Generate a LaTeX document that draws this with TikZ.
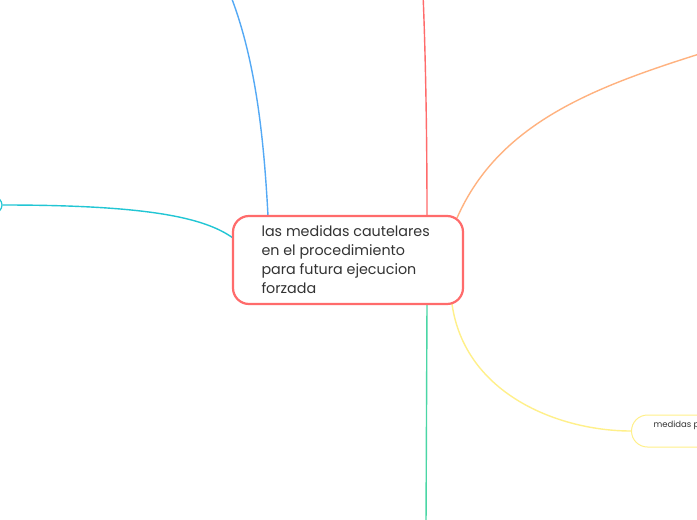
\documentclass[tikz,border=0pt]{standalone}
\usepackage{fontspec}
\setmainfont{Poppins}
\definecolor{cred}{HTML}{FF6B6B}
\definecolor{cblue}{HTML}{54A9F5}
\definecolor{ccyan}{HTML}{21C6D4}
\definecolor{corange}{HTML}{FFB27F}
\definecolor{cgreen}{HTML}{4AD6A5}
\definecolor{cyellow}{HTML}{FFF08A}
\definecolor{ctext}{HTML}{333333}
\tikzset{
  link/.style={line width=1.4pt},
  mainbox/.style={draw=cred, line width=2.2pt, rounded corners=16pt, fill=white, minimum width=230pt, minimum height=88pt, inner sep=0pt},
  subbox/.style={draw=cyellow, line width=1pt, rounded corners=16pt, fill=white, minimum height=32pt, minimum width=120pt, inner sep=0pt},
  leftbox/.style={draw=ccyan, line width=1.2pt, rounded corners=8pt, fill=white, minimum height=16pt, minimum width=100pt, inner sep=0pt},
}
\begin{document}
\begin{tikzpicture}[x=1pt,y=-1pt]
\fill[white!98!black!1] (0,0) rectangle (697,520);
\useasboundingbox (0,0) rectangle (697,520);
\clip (0,0) rectangle (697,520);
% endpoints off the canvas
\coordinate (blueend) at (230,-6);
\coordinate (redend) at (423,-6);
\coordinate (orangeend) at (712,50);
\coordinate (greenend) at (426,526);
% nodes
\node[leftbox] (leftn) at (-48,205) {};
\node[subbox, anchor=west] (yel) at (631,431) {};
\node[anchor=west, font=\fontsize{8.5}{10}\selectfont, text=ctext] (yeltext) at (650,425) {medidas p};
% connectors
\draw[link, cblue] (268,216) .. controls (264,140) and (256,60) .. (blueend);
\draw[link, cred] (427,216) .. controls (427,120) and (425,40) .. (redend);
\draw[link, ccyan] (leftn.east) .. controls (150,205) and (205,218) .. (233,238);
\draw[link, corange] (457,218) .. controls (500,120) and (600,85) .. (orangeend);
\draw[link, cgreen] (427,304) -- (greenend);
\draw[link, cyellow] (452,304) .. controls (465,395) and (560,431) .. (yel.west);
% main node
\node[mainbox] (main) at (348,260) {};
\node[anchor=north west, align=left, text=ctext, font=\fontsize{14.3}{19}\selectfont] (maintext) at (258,222) {las medidas cautelares\\en el procedimiento\\para futura ejecucion\\forzada};
\end{tikzpicture}
\end{document}
